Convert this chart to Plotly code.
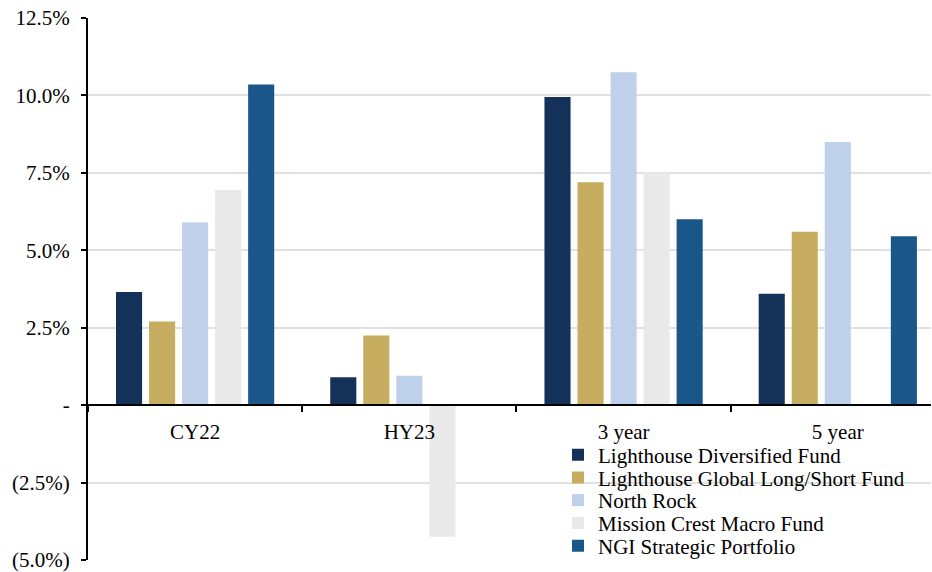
import plotly.graph_objects as go

categories = ["CY22", "HY23", "3 year", "5 year"]

series_names = [
    "Lighthouse Diversified Fund",
    "Lighthouse Global Long/Short Fund",
    "North Rock",
    "Mission Crest Macro Fund",
    "NGI Strategic Portfolio",
]

# returns in percent; None where no figure is reported
ldf = [3.65, 0.9, 9.95, 3.6]
lgls = [2.7, 2.25, 7.2, 5.6]
north_rock = [5.9, 0.95, 10.75, 8.5]
mission_crest = [6.95, -4.25, 7.5, None]
ngi = [10.35, None, 6.0, 5.45]

series_values = [ldf, lgls, north_rock, mission_crest, ngi]
colors = ["#14315a", "#c7ad5f", "#bfd0ea", "#e9e9e9", "#1b568b"]

tick_vals = [-5, -2.5, 0, 2.5, 5, 7.5, 10, 12.5]
tick_text = ["(5.0%)", "(2.5%)", "-", "2.5%", "5.0%", "7.5%", "10.0%", "12.5%"]

y_min, y_max = -5, 12.5

# plot area in pixels
W, H = 932, 572
M_L, M_R, M_T, M_B = 88, 1, 18, 12
plot_h = H - M_T - M_B

font = dict(family="Liberation Serif", size=21, color="#000000")

# one legend box per series so the rows can sit closer than the default line height
legend_ids = ["legend", "legend2", "legend3", "legend4", "legend5"]
legend_row_px = 22.75
legend_first_row_px = 455  # vertical centre of the first row, from the top of the page
legend_left_px = 558

fig = go.Figure()
for name, vals, col, lid in zip(series_names, series_values, colors, legend_ids):
    fig.add_trace(go.Bar(
        x=categories, y=vals, name=name, legend=lid,
        marker=dict(color=col, line=dict(width=0)),
    ))

legend_layouts = {}
for i, lid in enumerate(legend_ids):
    centre_px = legend_first_row_px + i * legend_row_px
    legend_layouts[lid] = dict(
        x=(legend_left_px - M_L) / (W - M_L - M_R),
        y=(H - M_B - centre_px) / plot_h,
        xanchor="left", yanchor="middle",
        bgcolor="rgba(0,0,0,0)", font=font,
        borderwidth=0, tracegroupgap=0,
    )

fig.update_layout(
    width=W, height=H,
    margin=dict(l=M_L, r=M_R, t=M_T, b=M_B, autoexpand=False),
    paper_bgcolor="white", plot_bgcolor="white",
    font=font,
    barmode="group", bargap=0.229, bargroupgap=0.21,
    showlegend=True,
    xaxis=dict(
        type="category", range=[-0.5, 3.435],
        showgrid=False, showline=True, linecolor="#000000", linewidth=2,
        ticks="outside", tickson="boundaries", ticklen=6, tickwidth=2,
        tickcolor="#000000",
        anchor="free", position=(0 - y_min) / (y_max - y_min),
        tickfont=font, zeroline=False, automargin=False,
        ticklabelstandoff=8,
    ),
    yaxis=dict(
        range=[y_min, y_max],
        tickvals=tick_vals, ticktext=tick_text,
        showgrid=True, gridcolor="#e1e1e1", gridwidth=2,
        showline=True, linecolor="#000000", linewidth=2,
        ticks="outside", ticklen=5, tickwidth=2, tickcolor="#000000",
        zeroline=False, tickfont=font, ticklabelstandoff=7,
        ticklabeloverflow="allow", automargin=False,
    ),
    **legend_layouts,
)

fig.write_html("out.html")
